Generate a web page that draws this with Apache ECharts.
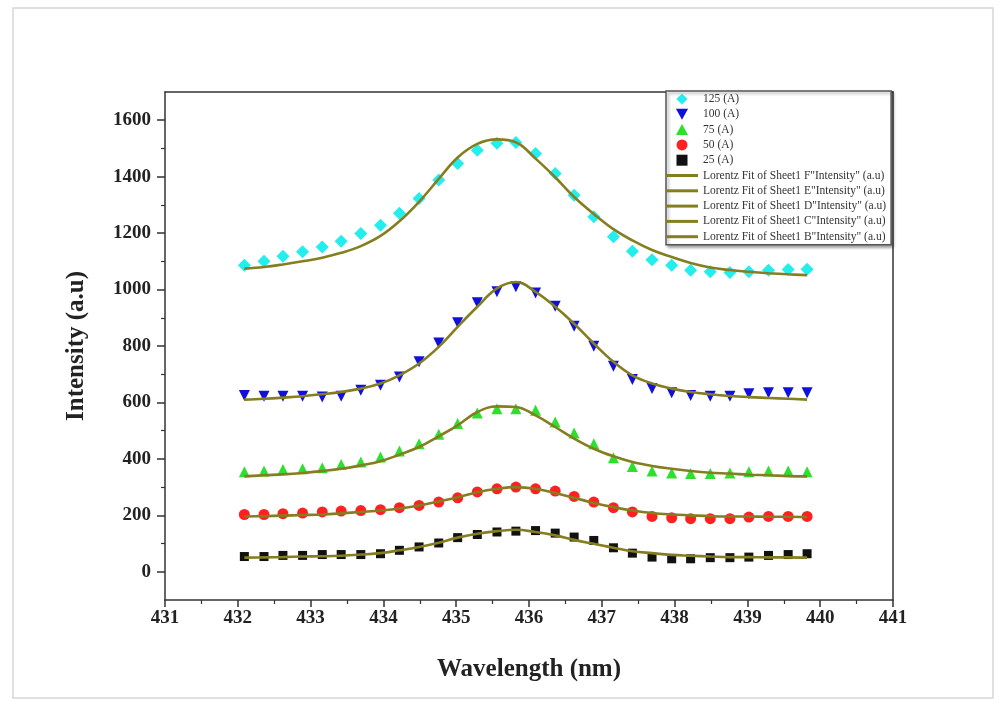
<!DOCTYPE html>
<html>
<head>
<meta charset="utf-8">
<script src="https://cdn.jsdelivr.net/npm/echarts@6/dist/echarts.min.js"></script>
<style>
html,body{margin:0;padding:0;background:#fff;}
#c{width:1000px;height:704px;}
</style>
</head>
<body>
<div id="c"></div>
<script>
// Wavelength positions (nm)
const wavelength = [432.09, 432.36, 432.62, 432.89, 433.16, 433.42, 433.69, 433.96, 434.22, 434.49,
  434.76, 435.02, 435.29, 435.56, 435.82, 436.09, 436.36, 436.62, 436.89, 437.16,
  437.42, 437.69, 437.96, 438.22, 438.49, 438.76, 439.02, 439.29, 439.56, 439.82];

// Measured intensities
const i125 = [1086, 1100, 1118, 1134, 1151, 1171, 1199, 1228, 1270, 1323, 1388, 1447, 1494, 1518, 1521,
  1482, 1411, 1334, 1258, 1187, 1136, 1106, 1086, 1068, 1063, 1060, 1063, 1068, 1071, 1072];
const i100 = [625, 622, 622, 622, 619, 622, 643, 661, 690, 744, 811, 882, 953, 992, 1010,
  988, 941, 870, 799, 728, 681, 649, 634, 625, 622, 622, 631, 634, 634, 634];
const i75 = [354, 357, 362, 365, 369, 380, 389, 407, 428, 454, 487, 525, 563, 578, 578,
  572, 531, 492, 454, 404, 373, 357, 350, 348, 348, 350, 354, 357, 357, 354];
const i50 = [203, 203, 206, 208, 212, 215, 217, 220, 227, 235, 247, 262, 283, 294, 300,
  294, 286, 267, 247, 227, 212, 196, 191, 188, 188, 188, 194, 196, 196, 196];
const i25 = [54, 54, 58, 58, 61, 61, 61, 64, 76, 88, 102, 121, 132, 141, 144,
  146, 137, 123, 111, 85, 66, 52, 46, 46, 50, 50, 52, 58, 61, 64];

// Lorentz fit curves
const fitF = [1074, 1080, 1089, 1100, 1113, 1130, 1154, 1190, 1242, 1311, 1392, 1468, 1516, 1532, 1522,
  1464, 1398, 1328, 1268, 1214, 1174, 1140, 1115, 1094, 1078, 1069, 1063, 1058, 1054, 1051];
const fitE = [610, 613, 617, 622, 629, 637, 649, 667, 696, 738, 797, 868, 939, 1004, 1027,
  992, 939, 879, 809, 744, 696, 667, 649, 637, 629, 623, 619, 616, 613, 610];
const fitD = [338, 342, 345, 350, 357, 365, 377, 392, 415, 442, 480, 519, 566, 586, 584,
  554, 513, 472, 436, 409, 389, 375, 365, 357, 351, 348, 344, 342, 339, 338];
const fitC = [196, 197, 199, 201, 203, 207, 212, 217, 224, 235, 249, 264, 282, 294, 300,
  294, 279, 262, 244, 229, 217, 208, 203, 200, 197, 196, 196, 195, 195, 194];
const fitB = [50, 51, 52, 54, 55, 57, 61, 66, 76, 88, 103, 121, 135, 144, 149,
  141, 129, 113, 99, 85, 73, 66, 60, 57, 54, 52, 52, 51, 51, 50];

// Tick values
const yMajorTicks = [0, 200, 400, 600, 800, 1000, 1200, 1400, 1600];
const yMinorTicks = [100, 300, 500, 700, 900, 1100, 1300, 1500];

const scatterNames = ['125 (A)', '100 (A)', '75 (A)', '50 (A)', '25 (A)'];
const fitNames = [
  'Lorentz Fit of Sheet1 F"Intensity" (a.u)',
  'Lorentz Fit of Sheet1 E"Intensity" (a.u)',
  'Lorentz Fit of Sheet1 D"Intensity" (a.u)',
  'Lorentz Fit of Sheet1 C"Intensity" (a.u)',
  'Lorentz Fit of Sheet1 B"Intensity" (a.u)'
];

function pairs(ys) { return wavelength.map((x, i) => [x, ys[i]]); }

const serif = '"Liberation Serif", "DejaVu Serif", serif';
const fitColor = '#857e20';

const scatterDefs = [
  { data: i125, color: '#22eeee', symbol: 'diamond', size: 13, rot: 0, icon: 'path://M6,0 L12,6 L6,12 L0,6 Z' },
  { data: i100, color: '#1010dd', symbol: 'triangle', size: 11, rot: 180, icon: 'path://M0,0 L11,0 L5.5,10 Z' },
  { data: i75, color: '#2ee02e', symbol: 'triangle', size: 11, rot: 0, icon: 'path://M5.5,0 L11,10 L0,10 Z' },
  { data: i50, color: '#ff2020', symbol: 'circle', size: 11, rot: 0, icon: 'path://M5,0 A5,5 0 1,1 5,10 A5,5 0 1,1 5,0 Z' },
  { data: i25, color: '#111111', symbol: 'rect', size: 9, rot: 0, icon: 'path://M1,1 H9 V9 H1 Z' }
];
const fits = [fitF, fitE, fitD, fitC, fitB];

const series = [];
scatterDefs.forEach((d, k) => {
  series.push({
    name: scatterNames[k], type: 'scatter', data: pairs(d.data),
    symbol: d.symbol, symbolSize: d.size, symbolRotate: d.rot,
    itemStyle: { color: d.color, opacity: 1 }, z: 2
  });
});
fits.forEach((f, k) => {
  series.push({
    name: fitNames[k], type: 'line', data: pairs(f), smooth: 0.4,
    showSymbol: false, symbol: 'none',
    lineStyle: { color: fitColor, width: 2.6 }, itemStyle: { color: fitColor }, z: 3
  });
});

const legendData = scatterDefs.map((d, k) => ({ name: scatterNames[k], icon: d.icon }))
  .concat(fitNames.map(n => ({ name: n, icon: 'path://M0,0 H32 V3 H0 Z' })));

const chart = echarts.init(document.getElementById('c'));
chart.setOption({
  backgroundColor: '#fff',
  animation: false,
  graphic: [{
    type: 'rect', shape: { x: 13, y: 8, width: 980, height: 690 },
    style: { fill: 'none', stroke: '#d6d6d6', lineWidth: 1.5 }, z: 0
  }],
  grid: { left: 165, right: 107, top: 92, bottom: 104 },
  legend: {
    orient: 'vertical', left: 666, top: 91,
    itemWidth: 32, itemHeight: 11, itemGap: 3.3,
    symbolKeepAspect: true,
    padding: [2, 5, 2, 0],
    backgroundColor: '#fff', borderColor: '#555', borderWidth: 1.5,
    shadowColor: 'rgba(0,0,0,0.35)', shadowBlur: 3, shadowOffsetX: 2, shadowOffsetY: 2,
    textStyle: { fontFamily: serif, fontSize: 11.5, color: '#333' },
    data: legendData, z: 10
  },
  xAxis: [{
    type: 'value', min: 431, max: 441, interval: 1, position: 'bottom',
    name: 'Wavelength (nm)', nameLocation: 'middle', nameGap: 57,
    nameTextStyle: { fontFamily: serif, fontSize: 25, fontWeight: 'bold', color: '#222' },
    axisLine: { onZero: false, lineStyle: { color: '#333', width: 1.5 } },
    axisTick: { length: 7, lineStyle: { color: '#333', width: 1.5 } },
    minorTick: { show: true, splitNumber: 2, length: 4, lineStyle: { color: '#333', width: 1.2 } },
    axisLabel: { fontFamily: serif, fontSize: 19, fontWeight: 'bold', color: '#222', margin: 9 },
    splitLine: { show: false }
  }, {
    type: 'value', min: 431, max: 441, position: 'top',
    axisLine: { show: true, onZero: false, lineStyle: { color: '#333', width: 1.5 } },
    axisTick: { show: false }, axisLabel: { show: false }, splitLine: { show: false }
  }],
  yAxis: [{
    type: 'value', min: -100, max: 1700, interval: 100, position: 'left',
    name: 'Intensity (a.u)', nameLocation: 'middle', nameGap: 76, nameRotate: 90,
    nameTextStyle: { fontFamily: serif, fontSize: 25, fontWeight: 'bold', color: '#222' },
    axisLine: { show: true, onZero: false, lineStyle: { color: '#333', width: 1.5 } },
    axisTick: { show: true, length: 8, customValues: yMajorTicks, lineStyle: { color: '#333', width: 1.5 } },
    axisLabel: { customValues: yMajorTicks, formatter: v => String(v), fontFamily: serif, fontSize: 19, fontWeight: 'bold', color: '#222', margin: 14 },
    splitLine: { show: false }
  }, {
    type: 'value', min: -100, max: 1700, interval: 100, position: 'left',
    axisLine: { show: false, onZero: false },
    axisTick: { show: true, length: 4, customValues: yMinorTicks, lineStyle: { color: '#333', width: 1.2 } },
    axisLabel: { show: false }, splitLine: { show: false }
  }, {
    type: 'value', min: -100, max: 1700, interval: 100, position: 'right',
    axisLine: { show: true, onZero: false, lineStyle: { color: '#333', width: 1.5 } },
    axisTick: { show: false }, axisLabel: { show: false }, splitLine: { show: false }
  }],
  series: series
});
</script>
</body>
</html>
